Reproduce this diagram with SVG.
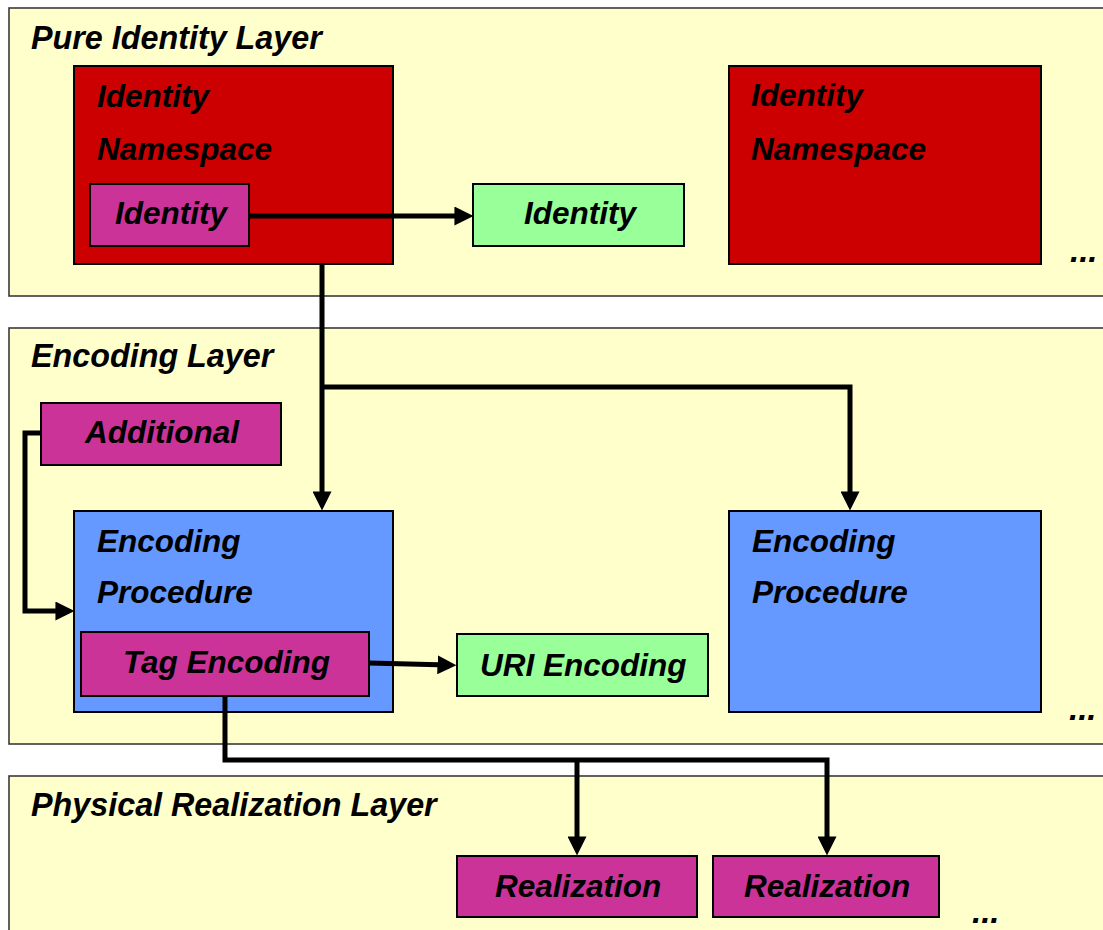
<svg xmlns="http://www.w3.org/2000/svg" width="1103" height="930" viewBox="0 0 1103 930">
<defs>
<style>
.layer{fill:#FFFFCC;stroke:#3a3a3a;stroke-width:1.6}
.box{stroke:#000;stroke-width:2}
.red{fill:#CC0000}
.pink{fill:#CC3399}
.green{fill:#99FF99}
.blue{fill:#6699FF}
text{font-family:"Liberation Sans",Arial,sans-serif;font-weight:bold;font-style:italic;font-size:31.5px;fill:#000}
.title{font-size:32.3px}
.dots{font-size:33px}
.conn{fill:none;stroke:#000;stroke-width:5}
</style>
<marker id="arr" markerUnits="userSpaceOnUse" markerWidth="19" markerHeight="19" viewBox="0 0 18 18" refX="10" refY="9" orient="auto">
<path d="M0,0 L18,9 L0,18 z" fill="#000"/>
</marker>
</defs>
<rect width="1103" height="930" fill="#fff"/>

<g id="layer-pure-identity">
<rect class="layer" x="9" y="8" width="1110" height="288"/>
<text class="title" x="31" y="49">Pure Identity Layer</text>
<text class="dots" x="1070" y="262">...</text>
</g>
<g id="layer-encoding">
<rect class="layer" x="9" y="328" width="1110" height="416"/>
<text class="title" x="31" y="367">Encoding Layer</text>
<text class="dots" x="1069" y="720">...</text>
</g>
<g id="layer-physical">
<rect class="layer" x="9" y="776" width="1110" height="170"/>
<text class="title" x="31" y="816">Physical Realization Layer</text>
<text class="dots" x="972" y="923">...</text>
</g>

<g id="identity-namespace-1">
<rect class="box red" x="74" y="66" width="319" height="198"/>
<text x="97" y="107">Identity</text>
<text x="97" y="160">Namespace</text>
</g>
<g id="identity-1">
<rect class="box pink" x="90" y="184" width="159" height="62"/>
<text x="115" y="224">Identity</text>
</g>
<g id="identity-2">
<rect class="box green" x="473" y="184" width="211" height="62"/>
<text x="524" y="224">Identity</text>
</g>
<g id="identity-namespace-2">
<rect class="box red" x="729" y="66" width="312" height="198"/>
<text x="751" y="106">Identity</text>
<text x="751" y="160">Namespace</text>
</g>

<g id="additional">
<rect class="box pink" x="41" y="403" width="240" height="62"/>
<text x="85" y="443">Additional</text>
</g>
<g id="encoding-procedure-1">
<rect class="box blue" x="74" y="511" width="319" height="201"/>
<text x="97" y="552">Encoding</text>
<text x="97" y="603">Procedure</text>
</g>
<g id="tag-encoding">
<rect class="box pink" x="81" y="632" width="288" height="64"/>
<text x="123" y="673">Tag Encoding</text>
</g>
<g id="uri-encoding">
<rect class="box green" x="457" y="634" width="251" height="62"/>
<text x="480" y="676">URI Encoding</text>
</g>
<g id="encoding-procedure-2">
<rect class="box blue" x="729" y="511" width="312" height="201"/>
<text x="752" y="552">Encoding</text>
<text x="752" y="603">Procedure</text>
</g>

<g id="realization-1">
<rect class="box pink" x="457" y="856" width="240" height="61"/>
<text x="495" y="897">Realization</text>
</g>
<g id="realization-2">
<rect class="box pink" x="713" y="856" width="226" height="61"/>
<text x="744" y="897">Realization</text>
</g>

<g id="connectors">
<path class="conn" d="M249 216 H465" marker-end="url(#arr)"/>
<path class="conn" d="M322 264 V502" marker-end="url(#arr)"/>
<path class="conn" d="M322 387 H850 V502" marker-end="url(#arr)"/>
<path class="conn" d="M41 433 H25 V611 H66" marker-end="url(#arr)"/>
<path class="conn" d="M369 663 L448 665" marker-end="url(#arr)"/>
<path class="conn" d="M225 696 V760 H827 V847" marker-end="url(#arr)"/>
<path class="conn" d="M577 760 V847" marker-end="url(#arr)"/>
</g>
</svg>
